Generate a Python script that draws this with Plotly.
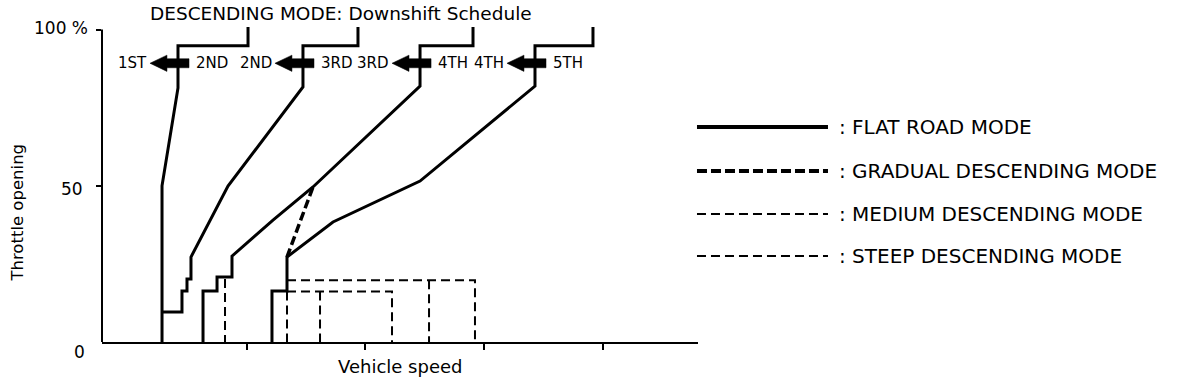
import plotly.graph_objects as go

# ---------------- data (speed in arbitrary units 0-100, throttle in %) ----------------
speed_ticks = [24.3, 44.2, 64.1, 84.0]
throttle_ticks = [50, 100]
throttle_label_values = [0, 50, 100]
throttle_tick_labels = ["0", "50", "100 %"]

# FLAT ROAD MODE shift lines
flat_12_speed = [10.07, 10.07, 12.75, 12.75, 24.5, 24.5]
flat_12_throttle = [0, 50.0, 81.3, 94.8, 94.8, 100.8]

flat_23_speed = [10.07, 13.42, 13.42, 14.26, 14.26, 14.93, 14.93, 21.14, 33.72, 33.72, 42.95, 42.95]
flat_23_throttle = [9.6, 9.6, 16.3, 16.3, 20.2, 20.2, 27.2, 49.9, 81.6, 94.8, 94.8, 100.8]

flat_34_speed = [16.95, 16.95, 19.30, 19.30, 21.81, 21.81, 28.69, 35.40, 53.36, 53.36, 62.25, 62.25]
flat_34_throttle = [0, 16.3, 16.3, 20.8, 20.8, 27.5, 39.0, 49.6, 81.9, 94.8, 94.8, 100.8]

flat_45_speed = [28.52, 28.52, 31.04, 31.04, 38.76, 53.36, 72.65, 72.65, 82.38, 82.38]
flat_45_throttle = [0, 16.3, 16.3, 27.2, 38.4, 51.5, 81.9, 94.8, 94.8, 100.8]

# GRADUAL DESCENDING MODE
gradual_speed = [31.04, 35.40]
gradual_throttle = [27.2, 49.6]

# MEDIUM DESCENDING MODE
medium_speed = [20.64, 20.64, None, 31.04, 48.66, 48.66, None, 31.04, 31.04, None, 36.58, 36.58]
medium_throttle = [20.2, 0, None, 16.2, 16.2, 0, None, 16.2, 0, None, 16.2, 0]

# STEEP DESCENDING MODE
steep_speed = [31.04, 62.58, 62.58, None, 54.87, 54.87]
steep_throttle = [19.8, 19.8, 0, None, 19.8, 0]

# gear-change arrows
shift_speed = [12.75, 33.72, 53.36, 72.65]
lower_gear = ["1ST", "2ND", "3RD", "4TH"]
upper_gear = ["2ND", "3RD", "4TH", "5TH"]
arrow_throttle = 89.2

title_text = "DESCENDING MODE: Downshift Schedule"
x_title = "Vehicle speed"
y_title = "Throttle opening"
legend_labels = [": FLAT ROAD MODE", ": GRADUAL DESCENDING MODE",
                 ": MEDIUM DESCENDING MODE", ": STEEP DESCENDING MODE"]

# ---------------- figure ----------------
FONT = "DejaVu Sans"
BLACK = "#000000"
Y_TOP = 104.96

fig = go.Figure()

for xs, ys in [(flat_12_speed, flat_12_throttle), (flat_23_speed, flat_23_throttle),
               (flat_34_speed, flat_34_throttle), (flat_45_speed, flat_45_throttle)]:
    fig.add_trace(go.Scatter(x=xs, y=ys, mode="lines",
                             line=dict(color=BLACK, width=3), hoverinfo="skip"))

fig.add_trace(go.Scatter(x=gradual_speed, y=gradual_throttle, mode="lines",
                         line=dict(color=BLACK, width=3.5, dash="9px,4px"), hoverinfo="skip"))
fig.add_trace(go.Scatter(x=medium_speed, y=medium_throttle, mode="lines", connectgaps=False,
                         line=dict(color=BLACK, width=2, dash="9px,5px"), hoverinfo="skip"))
fig.add_trace(go.Scatter(x=steep_speed, y=steep_throttle, mode="lines", connectgaps=False,
                         line=dict(color=BLACK, width=2, dash="9px,5px"), hoverinfo="skip"))

# arrows (polygons built around each shift line)
ax_pts, ay_pts = [], []
sh, hh = 1.45, 2.6
for xv in shift_speed:
    tip, base, tail = xv - 4.7, xv - 1.85, xv + 1.85
    y = arrow_throttle
    ax_pts += [tail, base, base, tip, base, base, tail, tail, None]
    ay_pts += [y + sh, y + sh, y + hh, y, y - hh, y - sh, y - sh, y + sh, None]
fig.add_trace(go.Scatter(x=ax_pts, y=ay_pts, mode="lines", fill="toself",
                         fillcolor=BLACK, line=dict(color=BLACK, width=0.5), hoverinfo="skip"))

annotations = []
for xv, lo, up in zip(shift_speed, lower_gear, upper_gear):
    annotations.append(dict(x=xv, y=arrow_throttle, xref="x", yref="y", text=lo,
                            showarrow=False, xanchor="right", xshift=-29,
                            font=dict(family=FONT, size=15, color=BLACK)))
    annotations.append(dict(x=xv, y=arrow_throttle, xref="x", yref="y", text=up,
                            showarrow=False, xanchor="left", xshift=16,
                            font=dict(family=FONT, size=15, color=BLACK)))

# y tick labels
tick_shift = {0: (-15, -10), 50: (-17, -3), 100: (-12, 2)}
for v, t in zip(throttle_label_values, throttle_tick_labels):
    xs_, ys_ = tick_shift[v]
    annotations.append(dict(x=0, y=v, xref="x", yref="y", text=t, showarrow=False,
                            xanchor="right", xshift=xs_, yshift=ys_,
                            font=dict(family=FONT, size=17, color=BLACK)))

# titles
annotations.append(dict(x=0.401, y=1.003, xref="paper", yref="paper", text=title_text,
                        showarrow=False, xanchor="center", yanchor="middle",
                        font=dict(family=FONT, size=18.5, color=BLACK)))
annotations.append(dict(x=0.50, y=-0.076, xref="paper", yref="paper", text=x_title,
                        showarrow=False, xanchor="center", yanchor="middle",
                        font=dict(family=FONT, size=18, color=BLACK)))
annotations.append(dict(x=-0.1418, y=0.396, xref="paper", yref="paper", text=y_title,
                        showarrow=False, xanchor="center", yanchor="middle", textangle=-90,
                        font=dict(family=FONT, size=16.5, color=BLACK)))

# custom legend
legend_y = [0.6555, 0.5213, 0.3902, 0.2622]
legend_styles = [dict(width=4, dash="solid"), dict(width=4, dash="10px,4px"),
                 dict(width=2, dash="9px,5px"), dict(width=2, dash="9px,5px")]
shapes = []
for ly, st, lab in zip(legend_y, legend_styles, legend_labels):
    shapes.append(dict(type="line", xref="paper", yref="paper", x0=0.9983, x1=1.2181,
                       y0=ly, y1=ly, line=dict(color=BLACK, **st)))
    annotations.append(dict(x=1.2332, y=ly, xref="paper", yref="paper", text=lab,
                            showarrow=False, xanchor="left", yanchor="middle",
                            font=dict(family=FONT, size=20, color=BLACK)))

# y axis line ending at 100 %
shapes.append(dict(type="line", xref="paper", yref="paper", x0=0, x1=0,
                   y0=0, y1=100 / Y_TOP, line=dict(color=BLACK, width=2)))

fig.update_layout(
    width=1184, height=388,
    margin=dict(l=102, r=486, t=14, b=46, pad=0),
    plot_bgcolor="white", paper_bgcolor="white",
    showlegend=False,
    annotations=annotations, shapes=shapes,
    xaxis=dict(range=[0, 100], showgrid=False, zeroline=False, showline=True,
               linecolor=BLACK, linewidth=2, ticks="outside", ticklen=6, tickwidth=2,
               tickcolor=BLACK, tickvals=speed_ticks, showticklabels=False, fixedrange=True),
    yaxis=dict(range=[0, Y_TOP], showgrid=False, zeroline=False, showline=False,
               ticks="outside", ticklen=5, tickwidth=2, tickcolor=BLACK,
               tickvals=throttle_ticks, showticklabels=False, fixedrange=True),
)

# remove the browser's default 8 px body margin so the figure fills the window exactly
fig.write_html("out.html", config={"displayModeBar": False},
               post_script="document.body.style.margin='0px';")
